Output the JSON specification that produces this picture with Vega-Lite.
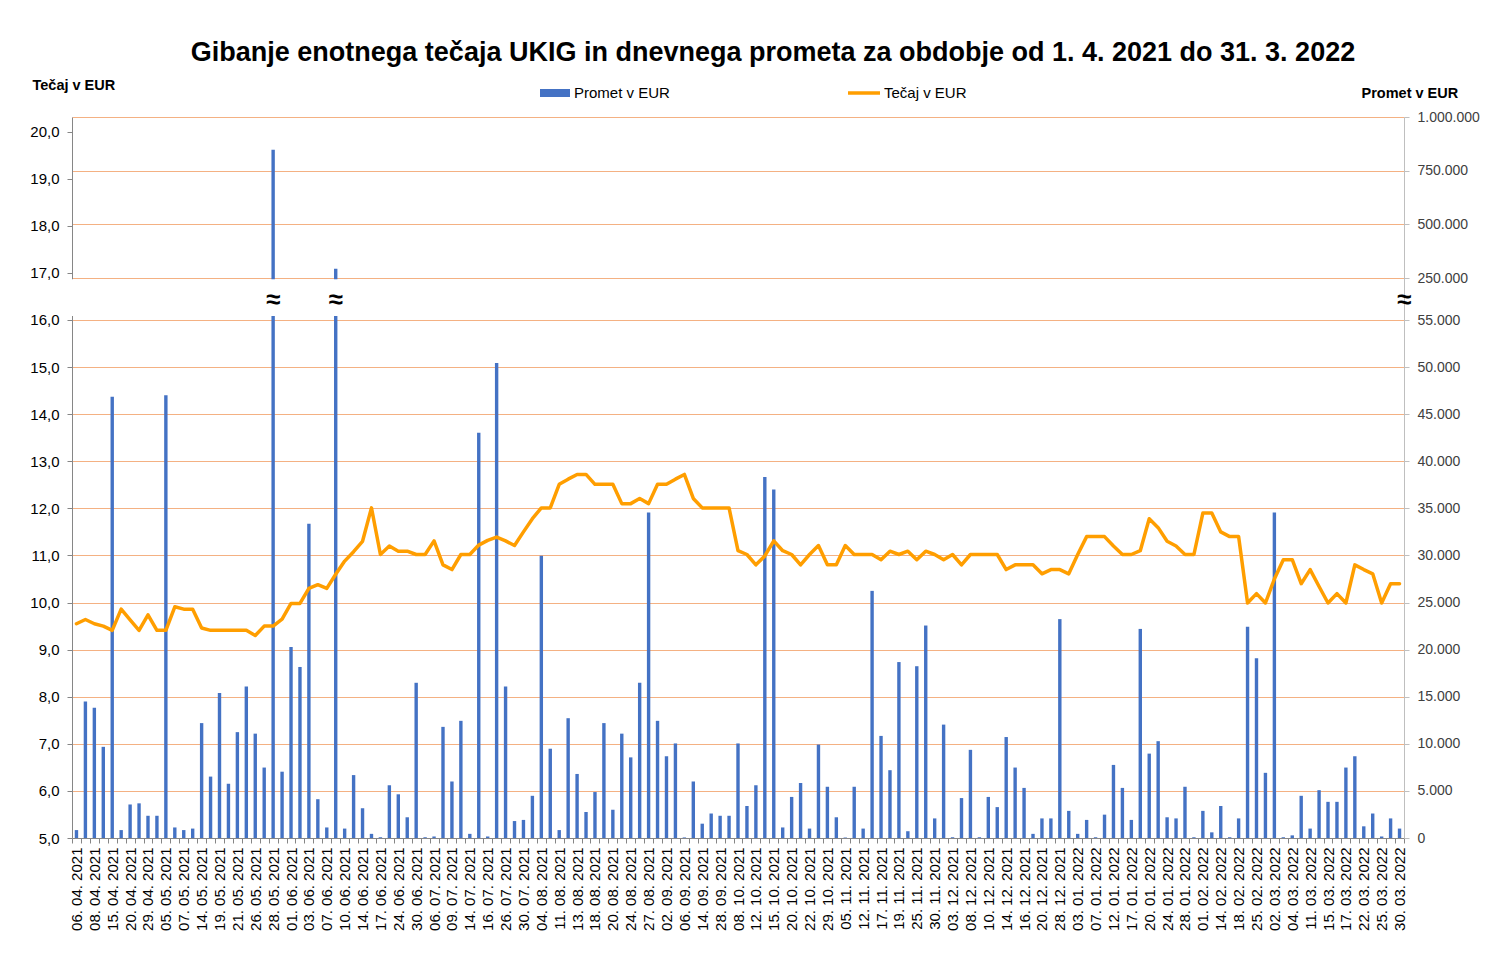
{
  "$schema": "https://vega.github.io/schema/vega-lite/v6.json",
  "width": 1332,
  "height": 721,
  "autosize": {"type": "none"},
  "padding": {"left": 72, "top": 117, "right": 104, "bottom": 123},
  "background": "white",
  "config": {
    "view": {"stroke": null},
    "font": "Liberation Sans",
    "axis": {"labelFont": "Liberation Sans", "titleFont": "Liberation Sans"},
    "legend": {"labelFont": "Liberation Sans"}
  },
  "title": {
    "text": "Gibanje enotnega tečaja UKIG in dnevnega prometa za obdobje od 1. 4. 2021 do 31. 3. 2022",
    "fontSize": 27,
    "fontWeight": "bold",
    "font": "Liberation Sans",
    "color": "#000000",
    "anchor": "middle",
    "dx": 35,
    "offset": 8
  },
  "data": {
    "values": [
      {"d": "06. 04. 2021", "p": 840, "t": 9.55},
      {"d": "07. 04. 2021", "p": 14480, "t": 9.64},
      {"d": "08. 04. 2021", "p": 13840, "t": 9.55},
      {"d": "12. 04. 2021", "p": 9680, "t": 9.5},
      {"d": "15. 04. 2021", "p": 46840, "t": 9.41},
      {"d": "16. 04. 2021", "p": 840, "t": 9.86},
      {"d": "20. 04. 2021", "p": 3560, "t": 9.63},
      {"d": "22. 04. 2021", "p": 3680, "t": 9.41},
      {"d": "29. 04. 2021", "p": 2360, "t": 9.74},
      {"d": "30. 04. 2021", "p": 2360, "t": 9.41},
      {"d": "05. 05. 2021", "p": 47000, "t": 9.41},
      {"d": "06. 05. 2021", "p": 1120, "t": 9.91},
      {"d": "07. 05. 2021", "p": 840, "t": 9.86},
      {"d": "11. 05. 2021", "p": 1000, "t": 9.86},
      {"d": "14. 05. 2021", "p": 12200, "t": 9.46},
      {"d": "17. 05. 2021", "p": 6520, "t": 9.41},
      {"d": "19. 05. 2021", "p": 15400, "t": 9.41},
      {"d": "20. 05. 2021", "p": 5760, "t": 9.41},
      {"d": "21. 05. 2021", "p": 11240, "t": 9.41},
      {"d": "24. 05. 2021", "p": 16080, "t": 9.41},
      {"d": "26. 05. 2021", "p": 11080, "t": 9.3},
      {"d": "27. 05. 2021", "p": 7480, "t": 9.5},
      {"d": "28. 05. 2021", "p": 848000, "t": 9.5},
      {"d": "31. 05. 2021", "p": 7040, "t": 9.65},
      {"d": "01. 06. 2021", "p": 20280, "t": 9.98},
      {"d": "02. 06. 2021", "p": 18160, "t": 9.98},
      {"d": "03. 06. 2021", "p": 33360, "t": 10.3},
      {"d": "04. 06. 2021", "p": 4120, "t": 10.38},
      {"d": "07. 06. 2021", "p": 1120, "t": 10.3},
      {"d": "08. 06. 2021", "p": 293000, "t": 10.6},
      {"d": "10. 06. 2021", "p": 1000, "t": 10.88},
      {"d": "11. 06. 2021", "p": 6680, "t": 11.08},
      {"d": "14. 06. 2021", "p": 3160, "t": 11.3},
      {"d": "15. 06. 2021", "p": 440, "t": 12.01},
      {"d": "17. 06. 2021", "p": 80, "t": 11.02},
      {"d": "18. 06. 2021", "p": 5600, "t": 11.2},
      {"d": "24. 06. 2021", "p": 4640, "t": 11.09},
      {"d": "28. 06. 2021", "p": 2200, "t": 11.09},
      {"d": "30. 06. 2021", "p": 16480, "t": 11.02},
      {"d": "02. 07. 2021", "p": 80, "t": 11.02},
      {"d": "06. 07. 2021", "p": 160, "t": 11.31},
      {"d": "07. 07. 2021", "p": 11800, "t": 10.8},
      {"d": "09. 07. 2021", "p": 6000, "t": 10.7},
      {"d": "12. 07. 2021", "p": 12440, "t": 11.02},
      {"d": "14. 07. 2021", "p": 440, "t": 11.02},
      {"d": "15. 07. 2021", "p": 43040, "t": 11.22},
      {"d": "16. 07. 2021", "p": 160, "t": 11.32},
      {"d": "19. 07. 2021", "p": 50440, "t": 11.39},
      {"d": "26. 07. 2021", "p": 16080, "t": 11.31},
      {"d": "28. 07. 2021", "p": 1800, "t": 11.21},
      {"d": "30. 07. 2021", "p": 1920, "t": 11.5},
      {"d": "02. 08. 2021", "p": 4480, "t": 11.78},
      {"d": "04. 08. 2021", "p": 29960, "t": 12.01},
      {"d": "06. 08. 2021", "p": 9480, "t": 12.01},
      {"d": "11. 08. 2021", "p": 840, "t": 12.51},
      {"d": "12. 08. 2021", "p": 12720, "t": 12.62},
      {"d": "13. 08. 2021", "p": 6800, "t": 12.72},
      {"d": "16. 08. 2021", "p": 2760, "t": 12.72},
      {"d": "18. 08. 2021", "p": 4880, "t": 12.51},
      {"d": "19. 08. 2021", "p": 12200, "t": 12.51},
      {"d": "20. 08. 2021", "p": 3000, "t": 12.51},
      {"d": "23. 08. 2021", "p": 11080, "t": 12.1},
      {"d": "24. 08. 2021", "p": 8560, "t": 12.1},
      {"d": "26. 08. 2021", "p": 16480, "t": 12.21},
      {"d": "27. 08. 2021", "p": 34560, "t": 12.1},
      {"d": "31. 08. 2021", "p": 12440, "t": 12.51},
      {"d": "02. 09. 2021", "p": 8680, "t": 12.51},
      {"d": "03. 09. 2021", "p": 10040, "t": 12.62},
      {"d": "06. 09. 2021", "p": 60, "t": 12.72},
      {"d": "08. 09. 2021", "p": 6000, "t": 12.21},
      {"d": "14. 09. 2021", "p": 1520, "t": 12.01},
      {"d": "20. 09. 2021", "p": 2600, "t": 12.01},
      {"d": "28. 09. 2021", "p": 2360, "t": 12.01},
      {"d": "01. 10. 2021", "p": 2360, "t": 12.01},
      {"d": "08. 10. 2021", "p": 10040, "t": 11.1},
      {"d": "11. 10. 2021", "p": 3400, "t": 11.02},
      {"d": "12. 10. 2021", "p": 5600, "t": 10.8},
      {"d": "13. 10. 2021", "p": 38320, "t": 10.99},
      {"d": "15. 10. 2021", "p": 37000, "t": 11.31},
      {"d": "18. 10. 2021", "p": 1120, "t": 11.1},
      {"d": "20. 10. 2021", "p": 4360, "t": 11.02},
      {"d": "21. 10. 2021", "p": 5840, "t": 10.8},
      {"d": "22. 10. 2021", "p": 1000, "t": 11.02},
      {"d": "25. 10. 2021", "p": 9920, "t": 11.21},
      {"d": "29. 10. 2021", "p": 5440, "t": 10.8},
      {"d": "03. 11. 2021", "p": 2200, "t": 10.8},
      {"d": "05. 11. 2021", "p": 50, "t": 11.21},
      {"d": "08. 11. 2021", "p": 5440, "t": 11.02},
      {"d": "12. 11. 2021", "p": 1000, "t": 11.02},
      {"d": "15. 11. 2021", "p": 26240, "t": 11.02},
      {"d": "17. 11. 2021", "p": 10840, "t": 10.91},
      {"d": "18. 11. 2021", "p": 7200, "t": 11.09},
      {"d": "19. 11. 2021", "p": 18680, "t": 11.02},
      {"d": "22. 11. 2021", "p": 720, "t": 11.09},
      {"d": "25. 11. 2021", "p": 18240, "t": 10.91},
      {"d": "26. 11. 2021", "p": 22560, "t": 11.09},
      {"d": "30. 11. 2021", "p": 2080, "t": 11.02},
      {"d": "01. 12. 2021", "p": 12040, "t": 10.91},
      {"d": "03. 12. 2021", "p": 80, "t": 11.02},
      {"d": "06. 12. 2021", "p": 4240, "t": 10.8},
      {"d": "08. 12. 2021", "p": 9360, "t": 11.02},
      {"d": "09. 12. 2021", "p": 80, "t": 11.02},
      {"d": "10. 12. 2021", "p": 4360, "t": 11.02},
      {"d": "13. 12. 2021", "p": 3280, "t": 11.02},
      {"d": "14. 12. 2021", "p": 10720, "t": 10.7},
      {"d": "15. 12. 2021", "p": 7480, "t": 10.8},
      {"d": "16. 12. 2021", "p": 5320, "t": 10.8},
      {"d": "17. 12. 2021", "p": 440, "t": 10.8},
      {"d": "20. 12. 2021", "p": 2080, "t": 10.61},
      {"d": "21. 12. 2021", "p": 2080, "t": 10.7},
      {"d": "28. 12. 2021", "p": 23240, "t": 10.7},
      {"d": "29. 12. 2021", "p": 2880, "t": 10.61},
      {"d": "03. 01. 2022", "p": 440, "t": 11.02},
      {"d": "04. 01. 2022", "p": 1920, "t": 11.4},
      {"d": "07. 01. 2022", "p": 80, "t": 11.4},
      {"d": "10. 01. 2022", "p": 2480, "t": 11.4},
      {"d": "12. 01. 2022", "p": 7760, "t": 11.2},
      {"d": "13. 01. 2022", "p": 5320, "t": 11.02},
      {"d": "17. 01. 2022", "p": 1920, "t": 11.02},
      {"d": "18. 01. 2022", "p": 22200, "t": 11.1},
      {"d": "20. 01. 2022", "p": 8960, "t": 11.78},
      {"d": "21. 01. 2022", "p": 10280, "t": 11.59},
      {"d": "24. 01. 2022", "p": 2200, "t": 11.3},
      {"d": "25. 01. 2022", "p": 2080, "t": 11.2},
      {"d": "28. 01. 2022", "p": 5440, "t": 11.02},
      {"d": "31. 01. 2022", "p": 80, "t": 11.02},
      {"d": "01. 02. 2022", "p": 2880, "t": 11.9},
      {"d": "04. 02. 2022", "p": 600, "t": 11.9},
      {"d": "14. 02. 2022", "p": 3400, "t": 11.5},
      {"d": "16. 02. 2022", "p": 80, "t": 11.4},
      {"d": "18. 02. 2022", "p": 2080, "t": 11.4},
      {"d": "21. 02. 2022", "p": 22440, "t": 9.99},
      {"d": "25. 02. 2022", "p": 19080, "t": 10.19},
      {"d": "28. 02. 2022", "p": 6920, "t": 9.99},
      {"d": "02. 03. 2022", "p": 34560, "t": 10.5},
      {"d": "03. 03. 2022", "p": 80, "t": 10.91},
      {"d": "04. 03. 2022", "p": 280, "t": 10.91},
      {"d": "08. 03. 2022", "p": 4480, "t": 10.4},
      {"d": "11. 03. 2022", "p": 1000, "t": 10.7},
      {"d": "14. 03. 2022", "p": 5080, "t": 10.34},
      {"d": "15. 03. 2022", "p": 3840, "t": 9.99},
      {"d": "16. 03. 2022", "p": 3840, "t": 10.19},
      {"d": "17. 03. 2022", "p": 7480, "t": 9.99},
      {"d": "18. 03. 2022", "p": 8680, "t": 10.8},
      {"d": "22. 03. 2022", "p": 1240, "t": 10.7},
      {"d": "23. 03. 2022", "p": 2600, "t": 10.61},
      {"d": "25. 03. 2022", "p": 160, "t": 9.99},
      {"d": "28. 03. 2022", "p": 2080, "t": 10.4},
      {"d": "30. 03. 2022", "p": 1000, "t": 10.4}
    ]
  },
  "layer": [
    {
      "layer": [
        {
          "mark": {"type": "bar", "width": {"band": 0.38}},
          "encoding": {
            "x": {
              "field": "d",
              "type": "ordinal",
              "sort": null,
              "title": null,
              "scale": {"paddingInner": 0, "paddingOuter": 0},
              "axis": {
                "labelAngle": -90,
                "labelFontSize": 15,
                "labelColor": "#000000",
                "labelPadding": 4,
                "labelOverlap": false,
                "labelExpr": "round(datum.index * 148) % 2 == 0 ? datum.label : ''",
                "tickBand": "extent",
                "tickSize": 5,
                "tickColor": "#868686",
                "domainColor": "#868686",
                "grid": false
              }
            },
            "y": {
              "field": "p",
              "type": "quantitative",
              "title": "Promet v EUR",
              "scale": {"domain": [0, 55000, 1000000], "range": [721, 203, 0], "nice": false, "zero": false},
              "axis": {
                "orient": "right",
                "values": [0, 5000, 10000, 15000, 20000, 25000, 30000, 35000, 40000, 45000, 50000, 55000, 250000, 500000, 750000, 1000000],
                "labelExpr": "replace(format(datum.value, ','), regexp(',', 'g'), '.')",
                "labelOverlap": false,
                "labelFontSize": 14,
                "labelColor": "#404040",
                "labelPadding": 8,
                "grid": true,
                "gridColor": "#F4B183",
                "gridWidth": 1,
                "domainColor": "#BFBFBF",
                "tickColor": "#BFBFBF",
                "tickSize": 5,
                "titleAngle": 0,
                "titleX": -43,
                "titleY": -24,
                "titleAlign": "left",
                "titleBaseline": "middle",
                "titleFontSize": 14.5,
                "titleFontWeight": "bold",
                "titleColor": "#000000"
              }
            },
            "fill": {
              "datum": "Promet v EUR",
              "scale": {"domain": ["Promet v EUR"], "range": ["#4472C4"]},
              "legend": {
                "orient": "none",
                "legendX": 473,
                "legendY": -34,
                "title": null,
                "symbolType": "M-1.5,-0.4H1.5V0.4H-1.5Z",
                "symbolSize": 400,
                "symbolStrokeWidth": 0,
                "labelOffset": 9,
                "labelFontSize": 15,
                "labelColor": "#000000"
              }
            }
          }
        },
        {
          "transform": [{"filter": "datum.d === '06. 04. 2021'"}],
          "mark": {"type": "rect", "color": "white"},
          "encoding": {
            "y": {"datum": 74000, "type": "quantitative"},
            "y2": {"datum": 245000}
          }
        },
        {
          "transform": [{"filter": "datum.d === '28. 05. 2021' || datum.d === '08. 06. 2021'"}],
          "mark": {"type": "text", "text": "≈", "fontSize": 26, "fontWeight": "bold", "color": "#000000", "baseline": "middle", "align": "center"},
          "encoding": {
            "x": {"field": "d", "type": "ordinal", "sort": null, "title": null},
            "y": {"datum": 150000, "type": "quantitative"}
          }
        },
        {
          "transform": [{"filter": "datum.d === '30. 03. 2022'"}],
          "mark": {"type": "text", "text": "≈", "fontSize": 26, "fontWeight": "bold", "color": "#000000", "baseline": "middle", "align": "center", "dx": 4.5},
          "encoding": {
            "x": {"field": "d", "type": "ordinal", "sort": null, "title": null},
            "y": {"datum": 150000, "type": "quantitative"}
          }
        }
      ]
    },
    {
      "mark": {"type": "line", "strokeWidth": 3.5, "strokeJoin": "round", "strokeCap": "round"},
      "encoding": {
        "x": {"field": "d", "type": "ordinal", "sort": null, "title": null, "bandPosition": 0.5},
        "y": {
          "field": "t",
          "type": "quantitative",
          "title": "Tečaj v EUR",
          "scale": {"domain": [5, 20.31], "nice": false, "zero": false},
          "axis": {
            "orient": "left",
            "values": [5, 6, 7, 8, 9, 10, 11, 12, 13, 14, 15, 16, 17, 18, 19, 20],
            "labelExpr": "replace(format(datum.value, '.1f'), '.', ',')",
            "labelFontSize": 15,
            "labelColor": "#000000",
            "labelPadding": 8,
            "labelOverlap": false,
            "grid": false,
            "domainColor": "#868686",
            "tickColor": "#868686",
            "tickSize": 5,
            "titleAngle": 0,
            "titleX": -40,
            "titleY": -32,
            "titleAlign": "left",
            "titleBaseline": "middle",
            "titleFontSize": 14.5,
            "titleFontWeight": "bold",
            "titleColor": "#000000"
          }
        },
        "stroke": {
          "datum": "Tečaj v EUR",
          "scale": {"domain": ["Tečaj v EUR"], "range": ["#FF9E00"]},
          "legend": {
            "orient": "none",
            "legendX": 774,
            "legendY": -42,
            "title": null,
            "symbolType": "stroke",
            "symbolSize": 1024,
            "symbolStrokeWidth": 3.5,
            "labelOffset": 2,
            "labelFontSize": 15,
            "labelColor": "#000000"
          }
        }
      }
    }
  ],
  "resolve": {"scale": {"y": "independent"}}
}
